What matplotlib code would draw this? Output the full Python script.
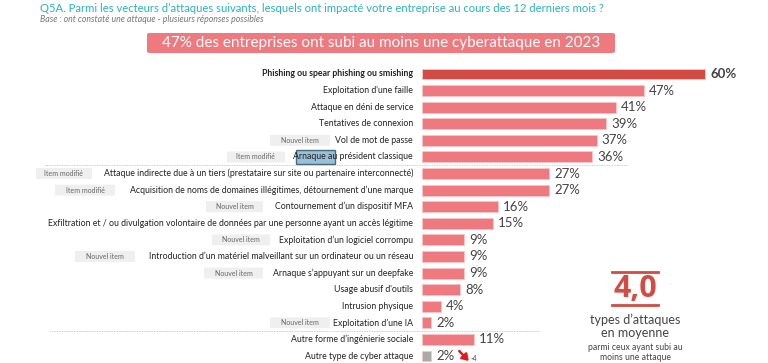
import matplotlib.pyplot as plt
import matplotlib.transforms as mtransforms
from matplotlib.patches import FancyBboxPatch, Rectangle

plt.rcParams['font.family'] = ['Lato', 'DejaVu Sans']

labels = [
    "Phishing ou spear phishing ou smishing",
    "Exploitation d'une faille",
    "Attaque en déni de service",
    "Tentatives de connexion",
    "Vol de mot de passe",
    "Arnaque au président classique",
    "Attaque indirecte due à un tiers (prestataire sur site ou partenaire interconnecté)",
    "Acquisition de noms de domaines illégitimes, détournement d\u2019une marque",
    "Contournement d\u2019un dispositif MFA",
    "Exfiltration et / ou divulgation volontaire de données par une personne ayant un accès légitime",
    "Exploitation d\u2019un logiciel corrompu",
    "Introduction d\u2019un matériel malveillant sur un ordinateur ou un réseau",
    "Arnaque s\u2019appuyant sur un deepfake",
    "Usage abusif d'outils",
    "Intrusion physique",
    "Exploitation d\u2019une IA",
    "Autre forme d\u2019ingénierie sociale",
    "Autre type de cyber attaque",
]
values = [60, 47, 41, 39, 37, 36, 27, 27, 16, 15, 9, 9, 9, 8, 4, 2, 11, 2]

# tags: row index -> (text, left pixel, right pixel)
tags = {
    4: ("Nouvel item", 270, 330),
    5: ("Item modifié", 227, 285),
    6: ("Item modifié", 36, 92),
    7: ("Item modifié", 55, 115),
    8: ("Nouvel item", 206, 263),
    10: ("Nouvel item", 212, 270),
    11: ("Nouvel item", 75, 135),
    12: ("Nouvel item", 204, 263),
    15: ("Nouvel item", 270, 330),
}

W, H = 768, 363
fig = plt.figure(figsize=(7.68, 3.63), dpi=100)

px_per_pct = 4.72
x0 = 422
row_h = 16.59
y_top = 74 - row_h / 2
y_bot = 356 + row_h / 2
ax = fig.add_axes([x0 / W, (H - y_bot) / H, 70 * px_per_pct / W, (y_bot - y_top) / H])
ax.set_xlim(0, 70)
ax.set_ylim(len(values) - 0.5, -0.5)
ax.axis('off')

red_dark = '#D24B45'
red_light = '#EE7A80'
colors = [red_dark] + [red_light] * (len(values) - 2) + ['#AAAAAA']
ypos = list(range(len(values)))
ax.barh(ypos, values, height=0.66, color=colors, edgecolor='#F7C6C8', linewidth=0.6)

trans = mtransforms.blended_transform_factory(fig.transFigure, ax.transData)

for i, (lab, v) in enumerate(zip(labels, values)):
    bold = i == 0
    ax.text(-1.9, i, lab, ha='right', va='center', fontsize=6.3,
            color='#222222', fontweight='bold' if bold else 'normal', clip_on=False)
    ax.text(v + 1.1, i, f"{v}%", ha='left', va='center', fontsize=9.5,
            color='#444444', fontweight='bold' if bold else 'normal')

for i, (t, l, r) in tags.items():
    ax.add_patch(FancyBboxPatch((l / W, i - 0.33), (r - l) / W, 0.66,
                                boxstyle="round,pad=0,rounding_size=0.002",
                                transform=trans, facecolor='#EFEFEF', edgecolor='none',
                                clip_on=False))
    ax.text((l + r) / 2 / W, i, t, transform=trans, ha='center', va='center',
            fontsize=5, color='#666666', clip_on=False)

# highlight box on "Arnaque"
ax.add_patch(Rectangle((296 / W, 5 - 0.42), 39 / W, 0.84, transform=trans,
                       facecolor='#7FB2D0', edgecolor='#2E4A60', linewidth=1,
                       alpha=0.8, clip_on=False))

# dotted separators
ax.plot([45 / W, 628 / W], [5.5, 5.5], transform=trans, color='#BBBBBB',
        linestyle=(0, (1, 1)), linewidth=0.6, clip_on=False)
ax.plot([50 / W, 540 / W], [15.5, 15.5], transform=trans, color='#BBBBBB',
        linestyle=(0, (1, 1)), linewidth=0.6, clip_on=False)

# arrow on last row
ax.annotate('', xy=(9.9, 17.3), xytext=(7.9, 16.7),
            arrowprops=dict(arrowstyle='-|>,head_length=0.45,head_width=0.3',
                            color='#E41A1A', lw=1.8, mutation_scale=8,
                            shrinkA=0, shrinkB=0))
ax.text(10.3, 17.15, "-4", fontsize=5, color='#444444', va='center')

# header
fig.text(40 / W, 1 - 8 / H, "Q5A. Parmi les vecteurs d\u2019attaques suivants, lesquels ont impacté votre entreprise au cours des 12 derniers mois ?",
         fontsize=8.1, color='#2BB3BE', va='center', ha='left')
fig.text(40 / W, 1 - 20 / H, "Base : ont constaté une attaque - plusieurs réponses possibles",
         fontsize=6.3, color='#777777', va='center', ha='left', style='italic')
fig.patches.append(FancyBboxPatch((147 / W, 1 - 53 / H), (615 - 147) / W, 20 / H,
                                  boxstyle="round,pad=0,rounding_size=0.004",
                                  transform=fig.transFigure, facecolor=red_light,
                                  edgecolor='none'))
fig.text(381 / W, 1 - 43.5 / H, "47% des entreprises ont subi au moins une cyberattaque en 2023",
         fontsize=11, color='white', va='center', ha='center')

# average block
cx = 635 / W
fig.lines.append(plt.Line2D([612 / W, 658 / W], [1 - 272 / H] * 2, transform=fig.transFigure,
                            color=red_dark, linewidth=2))
fig.lines.append(plt.Line2D([612 / W, 658 / W], [1 - 305 / H] * 2, transform=fig.transFigure,
                            color=red_dark, linewidth=2))
fig.text(cx, 1 - 289 / H, "4,0", fontsize=22, fontweight='bold', color=red_dark,
         ha='center', va='center', family=['Open Sans', 'DejaVu Sans'])
fig.text(cx, 1 - 320 / H, "types d\u2019attaques", fontsize=9, color='#444444', ha='center', va='center')
fig.text(cx, 1 - 333 / H, "en moyenne", fontsize=9, color='#444444', ha='center', va='center')
fig.text(cx, 1 - 347 / H, "parmi ceux ayant subi au", fontsize=6.2, color='#444444', ha='center', va='center')
fig.text(cx, 1 - 357 / H, "moins une attaque", fontsize=6.2, color='#444444', ha='center', va='center')

fig.savefig("out.png", dpi=100)
